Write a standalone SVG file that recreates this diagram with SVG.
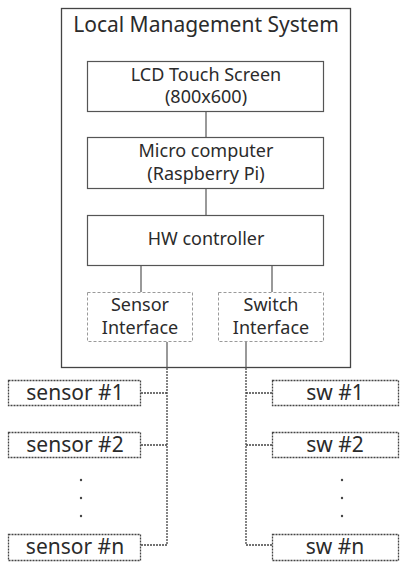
<svg xmlns="http://www.w3.org/2000/svg" width="400" height="562" viewBox="0 0 400 562">
  <style>
    .t { font-family: "Noto Sans", "Open Sans", sans-serif; fill: #2b2b2b; text-anchor: middle; }
    .lg { font-size: 21px; }
    .md { font-size: 18px; }
    .box { fill: #ffffff; stroke: #555555; stroke-width: 1.2; }
    .iface { fill: #ffffff; stroke: #9a9a9a; stroke-width: 1; stroke-dasharray: 3 2; }
    .dev { fill: #ffffff; stroke: #444444; stroke-width: 1.3; stroke-dasharray: 2 1; }
    .wire { fill: none; stroke: #555555; stroke-width: 1.2; }
    .bus { fill: none; stroke: #444444; stroke-width: 1.3; stroke-dasharray: 2 1; }
    .dot { fill: #444444; }
  </style>
  <rect width="400" height="562" fill="#ffffff"/>

  <!-- enclosure -->
  <g id="lms">
    <rect x="61.5" y="8.5" width="289" height="359" fill="#ffffff" stroke="#444444" stroke-width="1.3"/>
    <text class="t lg" x="206" y="32">Local Management System</text>
  </g>

  <!-- connectors -->
  <g id="connectors">
    <line class="wire" x1="206" y1="112" x2="206" y2="137"/>
    <line class="wire" x1="206" y1="189" x2="206" y2="215"/>
    <line class="wire" x1="141" y1="265" x2="141" y2="292"/>
    <line class="wire" x1="272" y1="265" x2="272" y2="292"/>
    <line class="wire" x1="167" y1="342" x2="167" y2="368"/>
    <line class="wire" x1="246" y1="342" x2="246" y2="368"/>
    <path class="bus" d="M167 368 V545 M141 393 H167 M141 445 H167 M141 545 H167"/>
    <path class="bus" d="M246 368 V545 M246 393 H272 M246 445 H272 M246 545 H272"/>
  </g>

  <g id="lcd">
    <rect class="box" x="87.5" y="61.5" width="236" height="50"/>
    <text class="t md" x="206" y="81">LCD Touch Screen</text>
    <text class="t md" x="206" y="103">(800x600)</text>
  </g>
  <g id="micro">
    <rect class="box" x="87.5" y="137.5" width="236" height="51"/>
    <text class="t md" x="206" y="157">Micro computer</text>
    <text class="t md" x="206" y="180">(Raspberry Pi)</text>
  </g>
  <g id="hw">
    <rect class="box" x="87.5" y="215.5" width="236" height="50"/>
    <text class="t md" x="206" y="245">HW controller</text>
  </g>
  <g id="sensor-if">
    <rect class="iface" x="87.5" y="292.5" width="105" height="49"/>
    <text class="t md" x="140" y="311">Sensor</text>
    <text class="t md" x="140" y="334">Interface</text>
  </g>
  <g id="switch-if">
    <rect class="iface" x="218.5" y="292.5" width="105" height="49"/>
    <text class="t md" x="271" y="311">Switch</text>
    <text class="t md" x="271" y="334">Interface</text>
  </g>

  <g id="sensor1">
    <rect class="dev" x="8.5" y="380.5" width="132" height="25"/>
    <text class="t lg" x="75" y="400">sensor #1</text>
  </g>
  <g id="sensor2">
    <rect class="dev" x="8.5" y="432.5" width="132" height="25"/>
    <text class="t lg" x="75" y="452">sensor #2</text>
  </g>
  <g id="sensor-dots">
    <circle class="dot" cx="81" cy="480" r="1.2"/>
    <circle class="dot" cx="81" cy="498" r="1.2"/>
    <circle class="dot" cx="81" cy="516" r="1.2"/>
  </g>
  <g id="sensorn">
    <rect class="dev" x="8.5" y="534.5" width="132" height="26"/>
    <text class="t lg" x="75" y="554">sensor #n</text>
  </g>

  <g id="sw1">
    <rect class="dev" x="272.5" y="380.5" width="126" height="25"/>
    <text class="t lg" x="335" y="400">sw #1</text>
  </g>
  <g id="sw2">
    <rect class="dev" x="272.5" y="432.5" width="126" height="25"/>
    <text class="t lg" x="335" y="452">sw #2</text>
  </g>
  <g id="sw-dots">
    <circle class="dot" cx="342" cy="480" r="1.2"/>
    <circle class="dot" cx="342" cy="498" r="1.2"/>
    <circle class="dot" cx="342" cy="516" r="1.2"/>
  </g>
  <g id="swn">
    <rect class="dev" x="272.5" y="534.5" width="126" height="26"/>
    <text class="t lg" x="335" y="554">sw #n</text>
  </g>
</svg>
